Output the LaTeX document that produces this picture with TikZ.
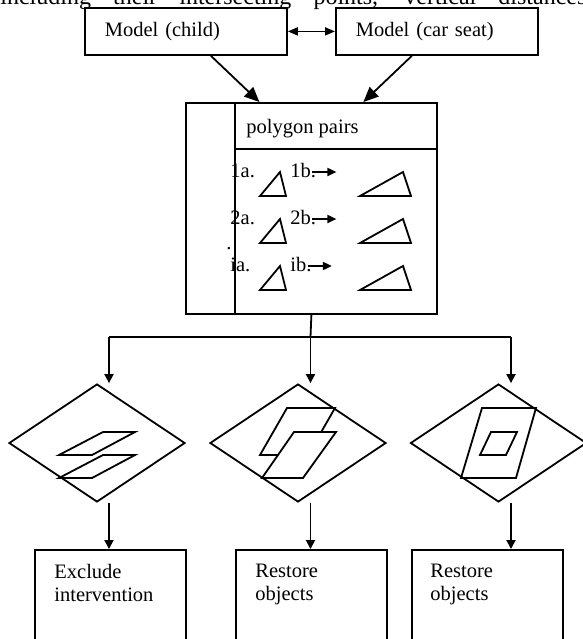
\documentclass[tikz,border=0pt]{standalone}
\usepackage{fontspec}
\setmainfont{Liberation Serif}
\usetikzlibrary{arrows.meta,shapes.geometric}

\tikzset{
  boxline/.style={line width=0.9pt},
  txt/.style={anchor=base west, inner sep=0pt},
  topbox/.style={draw, boxline, anchor=north west, minimum height=23.5pt,
    text width=81pt, inner xsep=10pt, align=left},
  pairbox/.style={draw, boxline, anchor=north west, minimum width=125.5pt,
    minimum height=105.5pt, inner sep=0pt},
  outbox/.style={draw, boxline, anchor=north west, minimum width=75.5pt,
    minimum height=66pt, inner sep=0pt},
  decide/.style={draw, boxline, diamond, minimum width=88pt,
    minimum height=59pt, inner sep=0pt},
  bigarr/.style={boxline, -{Triangle[length=7.5pt,width=6.5pt]}},
  downarr/.style={boxline, -{Triangle[length=4.5pt,width=4.5pt]}},
  smallarr/.style={boxline, -{Triangle[length=4.5pt,width=4pt]}},
  dblarr/.style={boxline, {Triangle[length=5pt,width=4pt]}-{Triangle[length=5pt,width=4pt]}}
}

\begin{document}
\begin{tikzpicture}[x=0.5pt, y=-0.5pt, every node/.style={font=\fontsize{10.25}{11.5}\selectfont}]
  \useasboundingbox (0,0) rectangle (583,639);

  % line of the running text above the figure
  \node[txt, font=\fontsize{12}{14}\selectfont] (runtext) at (0,4.5)
    {\makebox[293pt][s]{including their intersecting points, vertical distances}};

  % the two models
  \node[topbox] (child) at (84,7) {Model (child)};
  \node[topbox] (seat) at (335,7) {Model (car seat)};
  \draw[dblarr] (child) -- (seat); % both ways

  % box of polygon pairs
  \node[pairbox] (pp) at (185,102) {};
  \draw[boxline] ([shift={(50,0)}]pp.north west) -- ([shift={(50,0)}]pp.south west);
  \draw[boxline] ([shift={(50,47)}]pp.north west) -- ([shift={(0,47)}]pp.north east);
  \node[txt] (pphead) at (246,133) {polygon pairs};
  \draw[bigarr] ([shift={(25,0)}]child.south) -- ([shift={(-52,0)}]pp.north);
  \draw[bigarr] ([shift={(-25,0)}]seat.south) -- ([shift={(52,0)}]pp.north);

  % pairs 1a/1b, 2a/2b, ia/ib
  \node[txt] (a1) at (230,177.5) {1a.};
  \node[txt] (b1) at (290,177.5) {1b.};
  \draw[smallarr] ([shift={(-4,-5.5)}]b1.base east) -- +(24,0);
  \draw[boxline] (260,196) -- (286,196) -- (280,172) -- cycle; % small one
  \draw[boxline] (360,196) -- (411,196) -- (403,172) -- cycle; % large one

  \node[txt] (a2) at (230,224.5) {2a.};
  \node[txt] (b2) at (290,224.5) {2b.};
  \draw[smallarr] ([shift={(-4,-5.5)}]b2.base east) -- +(24,0);
  \draw[boxline] (260,243) -- (286,243) -- (280,219) -- cycle;
  \draw[boxline] (360,243) -- (411,243) -- (403,219) -- cycle;

  \node[txt] (dot) at (226,249) {.};

  \node[txt] (ai) at (230,271.5) {ia.};
  \node[txt] (bi) at (290,271.5) {ib.};
  \draw[smallarr] ([shift={(-4,-5.5)}]bi.base east) -- +(24,0);
  \draw[boxline] (260,290) -- (286,290) -- (280,266) -- cycle;
  \draw[boxline] (360,290) -- (411,290) -- (403,266) -- cycle;

  % branching into three checks
  \coordinate (bus1) at (109,337);
  \coordinate (bus2) at (310.5,337);
  \coordinate (bus3) at (511,337);
  \draw[boxline] (pp.south) -- (bus2);
  \draw[boxline] (bus1) -- (bus3);

  \node[decide] (d1) at (97,443) {};
  \node[decide] (d2) at (298,443) {};
  \node[decide] (d3) at (498.5,443) {};
  \draw[downarr] (bus1) -- (d1.north -| bus1);
  \draw[downarr] (bus2) -- (d2.north -| bus2);
  \draw[downarr] (bus3) -- (d3.north -| bus3);

  % apart
  \draw[boxline] (59,455) -- (92,455) -- (135,432) -- (103,432) -- cycle;
  \draw[boxline] (59,478) -- (92,478) -- (135,455) -- (103,455) -- cycle;
  % overlapping
  \draw[boxline] (260,455) -- (308,455) -- (335,408) -- (287,408) -- cycle;
  \draw[boxline, fill=white] (262,478) -- (303,478) -- (336,432) -- (294,432) -- cycle;
  % one inside the other
  \draw[boxline] (461,478) -- (516,478) -- (536,408) -- (482,408) -- cycle;
  \draw[boxline] (480,455) -- (506,455) -- (517,432) -- (491,432) -- cycle;

  % outcomes
  \node[outbox] (ex) at (34,549) {};
  \node[outbox] (re1) at (235,549) {};
  \node[outbox] (re2) at (411,549) {};
  \draw[downarr] (d1.south -| bus1) -- (ex.north -| bus1);
  \draw[downarr] (d2.south -| bus2) -- (re1.north -| bus2);
  \draw[downarr] (d3.south -| bus3) -- (re2.north -| bus3);
  \node[anchor=north west, inner sep=0pt, align=left] (ext) at ([shift={(20,15)}]ex.north west) {Exclude\\intervention};
  \node[anchor=north west, inner sep=0pt, align=left] (re1t) at ([shift={(20,15)}]re1.north west) {Restore\\objects};
  \node[anchor=north west, inner sep=0pt, align=left] (re2t) at ([shift={(19,15)}]re2.north west) {Restore\\objects};
\end{tikzpicture}
\end{document}
